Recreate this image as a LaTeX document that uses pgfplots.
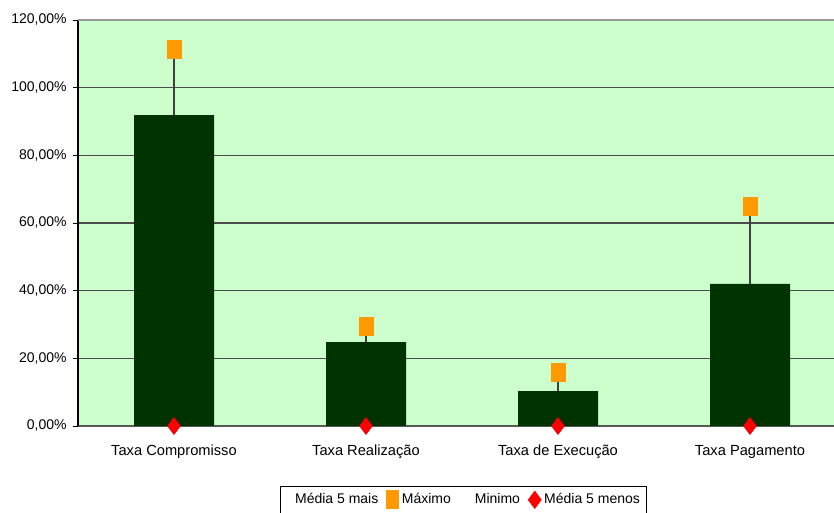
\documentclass[border=0pt]{standalone}
\usepackage{fontspec}
\setmainfont{Liberation Sans}
\usepackage{pgfplots}
\pgfplotsset{compat=1.18}
\definecolor{bargreen}{HTML}{003300}
\definecolor{bggreen}{HTML}{CCFFCC}
\definecolor{maxorange}{HTML}{FF9900}
\definecolor{minred}{HTML}{FF0000}
\begin{document}
\begin{tikzpicture}
\path[use as bounding box, clip] (0,0) rectangle (625.5pt,384.75pt);
\begin{axis}[
  at={(58.5pt,65.25pt)}, anchor=south west,
  scale only axis, width=576pt, height=304.5pt,
  xmin=-0.5, xmax=3.5, ymin=0, ymax=120,
  axis background/.style={fill=bggreen},
  axis x line*=bottom, axis y line*=left,
  x axis line style={black!65, line width=0.8pt, -},
  y axis line style={black, line width=0.8pt, -},
  ytick={0,20,40,60,80,100,120},
  yticklabels={{0,00\%},{20,00\%},{40,00\%},{60,00\%},{80,00\%},{100,00\%},{120,00\%}},
  ymajorgrids, grid style={black!70, line width=0.8pt},
  xtick={0,1,2,3},
  xticklabels={Taxa Compromisso, Taxa Realização, Taxa de Execução, Taxa Pagamento},
  major x tick style={draw=none},
  extra x ticks={-0.5,0.5,1.5,2.5,3.5},
  extra x tick labels={},
  extra x tick style={grid=none, major tick length=7pt, tick align=center, tick style={black, line width=0.6pt}},
  tick align=outside, major tick length=4pt,
  tick style={black, line width=0.6pt},
  yticklabel style={font=\fontsize{10.5}{12}\selectfont, xshift=-1pt},
  xticklabel style={font=\fontsize{11}{13}\selectfont, text height=1.6ex, text depth=0.4ex, yshift=-6.5pt},
  clip=false,
  legend columns=4,
  legend style={at={(0.502,-0.1478)}, anchor=north, draw=black, fill=white,
    font=\fontsize{10.5}{12}\selectfont, inner sep=3pt, line width=0.6pt,
    /tikz/every even column/.append style={column sep=4pt}},
]
\addplot[ybar, bar width=60pt, fill=bargreen, draw=none, forget plot,
  error bars/.cd, y dir=plus, y explicit, error mark=none,
  error bar style={black!75, line width=0.8pt}]
  coordinates {(0,91.9) +- (0,19.5) (1,24.8) +- (0,4.6) (2,10.3) +- (0,5.7) (3,42.0) +- (0,23.0)};
\addplot[only marks, mark=square*, mark size=5.25pt, forget plot,
  mark options={yscale=1.29, fill=maxorange, draw=maxorange}]
  coordinates {(0,111.4) (1,29.4) (2,16.0) (3,65.0)};
\addplot[only marks, mark=diamond*, mark size=6.4pt, forget plot,
  mark options={fill=minred, draw=minred}]
  coordinates {(0,0) (1,0) (2,0) (3,0)};
\draw[black!40, line width=1.5pt] (rel axis cs:0,1) -- (rel axis cs:1,1);
\addlegendimage{legend image code/.code={\path[draw=none] (0pt,0pt) -- (6pt,0pt);}}
\addlegendentry{Média 5 mais}
\addlegendimage{legend image code/.code={\fill[maxorange] (0pt,-6.75pt) rectangle (9pt,6.75pt);}}
\addlegendentry{Máximo}
\addlegendimage{legend image code/.code={\path[draw=none] (0pt,0pt) -- (10pt,0pt);}}
\addlegendentry{Minimo}
\addlegendimage{legend image code/.code={\fill[minred] (0pt,0pt) -- (4.8pt,6.4pt) -- (9.6pt,0pt) -- (4.8pt,-6.4pt) -- cycle;}}
\addlegendentry{Média 5 menos}
\end{axis}
\end{tikzpicture}
\end{document}
